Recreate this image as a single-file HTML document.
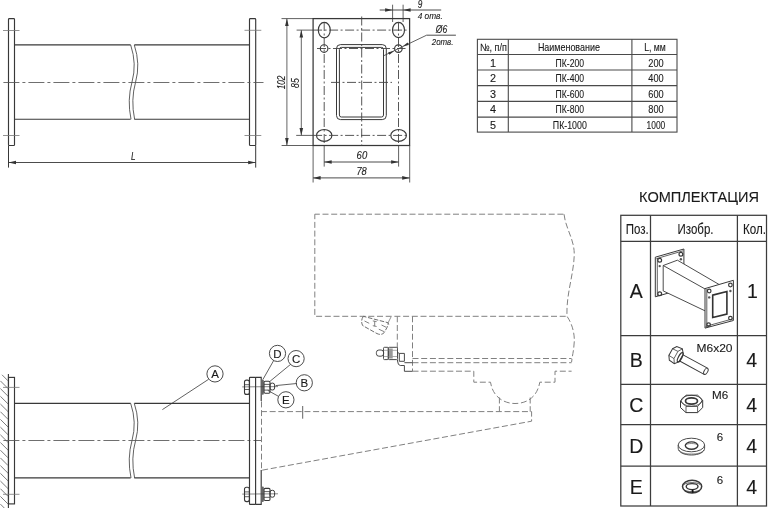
<!DOCTYPE html>
<html><head><meta charset="utf-8"><style>
html,body{margin:0;padding:0;background:#fff;width:768px;height:508px;overflow:hidden}
svg{display:block;filter:blur(0.45px)}
text{font-family:"Liberation Sans",sans-serif;stroke:#1a1a1a;stroke-width:0.12px}
.s{stroke:#383838;stroke-width:1.15;fill:none}
.h{stroke:#777;stroke-width:0.8;fill:none}
.p{stroke:#383838;stroke-width:1.15;fill:none}
.t{stroke:#3c3c3c;stroke-width:1.25;fill:none}
.t1{stroke:#4a4a4a;stroke-width:1.1;fill:none}
.d{stroke:#808080;stroke-width:1;fill:none;stroke-dasharray:6 2.7}
.c{stroke:#555;stroke-width:0.85;fill:none;stroke-dasharray:16 3 3 3}
.c2{stroke:#444;stroke-width:0.9;fill:none;stroke-dasharray:9 2.5 2 2.5}
</style></head><body>
<svg width="768" height="508" viewBox="0 0 768 508">
<rect x="8.5" y="18.6" width="6" height="126.9" rx="0.8" class="s"/>
<rect x="249.5" y="18.6" width="6.2" height="126.9" rx="0.8" class="s"/>
<line x1="14.5" y1="44.9" x2="130.7" y2="44.9" class="p" />
<line x1="134.3" y1="44.9" x2="249.5" y2="44.9" class="p" />
<line x1="14.5" y1="119.2" x2="130.7" y2="119.2" class="p" />
<line x1="134.3" y1="119.2" x2="249.5" y2="119.2" class="p" />
<path style="stroke-width:0.8" d="M130.7,45 Q137,64 132,82 Q127,100 131,119.2" class="s"/>
<path style="stroke-width:0.8" d="M134.29999999999998,45 Q140.6,64 135.6,82 Q130.6,100 134.6,119.2" class="s"/>
<line x1="3" y1="30.5" x2="19.5" y2="30.5" class="h" />
<line x1="3" y1="135.5" x2="19.5" y2="135.5" class="h" />
<line x1="244.5" y1="30.3" x2="261.3" y2="30.3" class="h" />
<line x1="244.5" y1="135.5" x2="261.3" y2="135.5" class="h" />
<line x1="3.4" y1="82.5" x2="263.5" y2="82.5" class="c" />
<line style="stroke-width:1" x1="8.5" y1="145.5" x2="8.5" y2="167.6" class="s"/>
<line style="stroke-width:1" x1="255.7" y1="145.5" x2="255.7" y2="167.6" class="s"/>
<line style="stroke-width:0.9" x1="8.5" y1="162.5" x2="255.7" y2="162.5" class="s"/>
<polygon points="8.50,162.50 16.00,160.70 16.00,164.30" fill="#333"/>
<polygon points="255.70,162.50 248.20,164.30 248.20,160.70" fill="#333"/>
<text x="133.2" y="159.8" font-size="11.5" text-anchor="middle" style="font-style:italic;" fill="#1a1a1a" textLength="4.6" lengthAdjust="spacingAndGlyphs" >L</text>
<rect style="stroke-width:1.25" x="313.1" y="18.6" width="96.5" height="126.9" class="s"/>
<ellipse cx="324.3" cy="30.1" rx="6" ry="7.7" class="s"/>
<ellipse cx="398.5" cy="30.0" rx="6" ry="7.7" class="s"/>
<ellipse cx="324.2" cy="135.4" rx="7.7" ry="5.9" class="s"/>
<ellipse cx="398.6" cy="135.4" rx="7.8" ry="5.9" class="s"/>
<circle cx="324.1" cy="48.5" r="3.8" class="s"/>
<circle cx="398.4" cy="48.6" r="3.8" class="s"/>
<rect style="stroke-width:1" x="336.5" y="44.6" width="49.8" height="75" rx="4" class="s"/>
<rect style="stroke-width:1" x="339.4" y="47.4" width="44.1" height="69.6" rx="2" class="s"/>
<line x1="361.7" y1="16.5" x2="361.7" y2="145.5" class="c2" />
<line x1="331" y1="82.4" x2="392" y2="82.4" class="c2" />
<line x1="324.2" y1="22" x2="324.2" y2="145.5" class="c2" />
<line x1="398.5" y1="22" x2="398.5" y2="145.5" class="c2" />
<line style="stroke-width:0.8" x1="324.2" y1="145.5" x2="324.2" y2="166.6" class="s"/>
<line style="stroke-width:0.8" x1="398.6" y1="145.5" x2="398.6" y2="166.6" class="s"/>
<line x1="313.1" y1="30.1" x2="409.6" y2="30.1" class="c2" />
<line x1="313.1" y1="135.4" x2="409.6" y2="135.4" class="c2" />
<line style="stroke-width:0.8" x1="296.6" y1="30.1" x2="313.1" y2="30.1" class="s"/>
<line style="stroke-width:0.8" x1="296.2" y1="135.4" x2="313.1" y2="135.4" class="s"/>
<line x1="317" y1="48.5" x2="405.5" y2="48.5" class="c2" />
<line style="stroke-width:0.8" x1="281.5" y1="18.6" x2="313.1" y2="18.6" class="s"/>
<line style="stroke-width:0.8" x1="281.6" y1="145.5" x2="313.1" y2="145.5" class="s"/>
<line style="stroke-width:0.9;stroke:#555" x1="286.9" y1="18.6" x2="286.9" y2="145.5" class="s"/>
<polygon points="286.90,18.60 288.70,26.10 285.10,26.10" fill="#333"/>
<polygon points="286.90,145.50 285.10,138.00 288.70,138.00" fill="#333"/>
<line style="stroke-width:0.9;stroke:#555" x1="301.3" y1="30.1" x2="301.3" y2="135.4" class="s"/>
<polygon points="301.30,30.10 303.10,37.60 299.50,37.60" fill="#333"/>
<polygon points="301.30,135.40 299.50,127.90 303.10,127.90" fill="#333"/>
<text x="0" y="0" font-size="10" text-anchor="middle" style="font-style:italic;" fill="#1a1a1a" textLength="13.6" lengthAdjust="spacingAndGlyphs" transform="translate(285.1,82.4) rotate(-90)">102</text>
<text x="0" y="0" font-size="10" text-anchor="middle" style="font-style:italic;" fill="#1a1a1a" textLength="9.6" lengthAdjust="spacingAndGlyphs" transform="translate(298.7,83.1) rotate(-90)">85</text>
<line style="stroke-width:0.9" x1="324.2" y1="162" x2="398.6" y2="162" class="s"/>
<polygon points="324.20,162.00 331.70,160.20 331.70,163.80" fill="#333"/>
<polygon points="398.60,162.00 391.10,163.80 391.10,160.20" fill="#333"/>
<text x="361.9" y="159.2" font-size="10.5" text-anchor="middle" style="font-style:italic;" fill="#1a1a1a" textLength="10.6" lengthAdjust="spacingAndGlyphs" >60</text>
<line style="stroke-width:0.8" x1="313.1" y1="145.5" x2="313.1" y2="182.5" class="s"/>
<line style="stroke-width:0.8" x1="409.7" y1="145.5" x2="409.7" y2="182.5" class="s"/>
<line style="stroke-width:0.9" x1="313.1" y1="177.9" x2="409.7" y2="177.9" class="s"/>
<polygon points="313.10,177.90 320.60,176.10 320.60,179.70" fill="#333"/>
<polygon points="409.70,177.90 402.20,179.70 402.20,176.10" fill="#333"/>
<text x="361.6" y="175.1" font-size="10.5" text-anchor="middle" style="font-style:italic;" fill="#1a1a1a" textLength="10.4" lengthAdjust="spacingAndGlyphs" >78</text>
<line style="stroke-width:0.8" x1="392.6" y1="4.7" x2="392.6" y2="22" class="s"/>
<line style="stroke-width:0.8" x1="403.1" y1="4.7" x2="403.1" y2="22" class="s"/>
<line style="stroke-width:0.9" x1="379.7" y1="10" x2="441.2" y2="10" class="s"/>
<polygon points="392.60,10.00 385.10,11.80 385.10,8.20" fill="#333"/>
<polygon points="403.10,10.00 410.60,8.20 410.60,11.80" fill="#333"/>
<text x="420.1" y="7.6" font-size="10.5" text-anchor="middle" style="font-style:italic;" fill="#1a1a1a" textLength="4.6" lengthAdjust="spacingAndGlyphs" >9</text>
<text x="430.2" y="19.4" font-size="9.5" text-anchor="middle" style="font-style:italic;" fill="#1a1a1a" textLength="25" lengthAdjust="spacingAndGlyphs" >4 отв.</text>
<line style="stroke-width:0.9" x1="426.6" y1="35.2" x2="455.9" y2="35.2" class="s"/>
<line style="stroke-width:0.8" x1="426.6" y1="35.2" x2="384" y2="55.6" class="s"/>
<polygon points="402.80,46.30 407.61,42.45 408.82,44.97" fill="#333"/>
<polygon points="394.20,50.90 389.39,54.75 388.18,52.23" fill="#333"/>
<text x="441.5" y="32.8" font-size="10" text-anchor="middle" style="font-style:italic;" fill="#1a1a1a" textLength="11.5" lengthAdjust="spacingAndGlyphs" >Ø6</text>
<text x="442.6" y="45.1" font-size="9.5" text-anchor="middle" style="font-style:italic;" fill="#1a1a1a" textLength="21.7" lengthAdjust="spacingAndGlyphs" >2отв.</text>
<rect x="477.4" y="39.3" width="199.60000000000002" height="92.8" class="t1"/>
<line x1="508.3" y1="39.3" x2="508.3" y2="132.1" class="t1" />
<line x1="631.9" y1="39.3" x2="631.9" y2="132.1" class="t1" />
<line x1="477.4" y1="54.5" x2="677.0" y2="54.5" class="t1" />
<line x1="477.4" y1="70.0" x2="677.0" y2="70.0" class="t1" />
<line x1="477.4" y1="85.6" x2="677.0" y2="85.6" class="t1" />
<line x1="477.4" y1="101.4" x2="677.0" y2="101.4" class="t1" />
<line x1="477.4" y1="117.1" x2="677.0" y2="117.1" class="t1" />
<text x="493.4" y="51.1" font-size="10.5" text-anchor="middle" style="" fill="#1a1a1a" textLength="27" lengthAdjust="spacingAndGlyphs" >№, п/п</text>
<text x="568.9" y="51.1" font-size="10.5" text-anchor="middle" style="" fill="#1a1a1a" textLength="62" lengthAdjust="spacingAndGlyphs" >Наименование</text>
<text x="655" y="51.1" font-size="10.5" text-anchor="middle" style="" fill="#1a1a1a" textLength="21.6" lengthAdjust="spacingAndGlyphs" >L, мм</text>
<text x="493.05" y="66.5" font-size="10.8" text-anchor="middle" style="" fill="#1a1a1a" >1</text>
<text x="569.8000000000001" y="66.5" font-size="10.8" text-anchor="middle" style="" fill="#1a1a1a" textLength="28.5" lengthAdjust="spacingAndGlyphs" >ПК-200</text>
<text x="655.95" y="66.5" font-size="10.8" text-anchor="middle" style="" fill="#1a1a1a" textLength="15.4" lengthAdjust="spacingAndGlyphs" >200</text>
<text x="493.05" y="82.0" font-size="10.8" text-anchor="middle" style="" fill="#1a1a1a" >2</text>
<text x="569.8000000000001" y="82.0" font-size="10.8" text-anchor="middle" style="" fill="#1a1a1a" textLength="28.5" lengthAdjust="spacingAndGlyphs" >ПК-400</text>
<text x="655.95" y="82.0" font-size="10.8" text-anchor="middle" style="" fill="#1a1a1a" textLength="15.4" lengthAdjust="spacingAndGlyphs" >400</text>
<text x="493.05" y="97.6" font-size="10.8" text-anchor="middle" style="" fill="#1a1a1a" >3</text>
<text x="569.8000000000001" y="97.6" font-size="10.8" text-anchor="middle" style="" fill="#1a1a1a" textLength="28.5" lengthAdjust="spacingAndGlyphs" >ПК-600</text>
<text x="655.95" y="97.6" font-size="10.8" text-anchor="middle" style="" fill="#1a1a1a" textLength="15.4" lengthAdjust="spacingAndGlyphs" >600</text>
<text x="493.05" y="113.4" font-size="10.8" text-anchor="middle" style="" fill="#1a1a1a" >4</text>
<text x="569.8000000000001" y="113.4" font-size="10.8" text-anchor="middle" style="" fill="#1a1a1a" textLength="28.5" lengthAdjust="spacingAndGlyphs" >ПК-800</text>
<text x="655.95" y="113.4" font-size="10.8" text-anchor="middle" style="" fill="#1a1a1a" textLength="15.4" lengthAdjust="spacingAndGlyphs" >800</text>
<text x="493.05" y="129.1" font-size="10.8" text-anchor="middle" style="" fill="#1a1a1a" >5</text>
<text x="569.8000000000001" y="129.1" font-size="10.8" text-anchor="middle" style="" fill="#1a1a1a" textLength="34" lengthAdjust="spacingAndGlyphs" >ПК-1000</text>
<text x="655.95" y="129.1" font-size="10.8" text-anchor="middle" style="" fill="#1a1a1a" textLength="18.7" lengthAdjust="spacingAndGlyphs" >1000</text>
<text x="699" y="202.3" font-size="14.6" text-anchor="middle" style="" fill="#1a1a1a" textLength="119.8" lengthAdjust="spacingAndGlyphs" >КОМПЛЕКТАЦИЯ</text>
<rect x="620.8" y="215.3" width="145.70000000000005" height="290.7" class="t"/>
<line x1="650.5" y1="215.3" x2="650.5" y2="506.0" class="t" />
<line x1="737.4" y1="215.3" x2="737.4" y2="506.0" class="t" />
<line x1="620.8" y1="241.3" x2="766.5" y2="241.3" class="t" />
<line x1="620.8" y1="335.7" x2="766.5" y2="335.7" class="t" />
<line x1="620.8" y1="384.4" x2="766.5" y2="384.4" class="t" />
<line x1="620.8" y1="424.5" x2="766.5" y2="424.5" class="t" />
<line x1="620.8" y1="466.0" x2="766.5" y2="466.0" class="t" />
<text x="637.2" y="233.8" font-size="15" text-anchor="middle" style="" fill="#1a1a1a" textLength="23" lengthAdjust="spacingAndGlyphs" >Поз.</text>
<text x="695.5" y="233.6" font-size="15" text-anchor="middle" style="" fill="#1a1a1a" textLength="36" lengthAdjust="spacingAndGlyphs" >Изобр.</text>
<text x="754.5" y="233.8" font-size="15" text-anchor="middle" style="" fill="#1a1a1a" textLength="23" lengthAdjust="spacingAndGlyphs" >Кол.</text>
<text x="636.3" y="297.5" font-size="19.5" text-anchor="middle" style="" fill="#1a1a1a" >A</text>
<text x="752.4" y="297.5" font-size="19.5" text-anchor="middle" style="" fill="#1a1a1a" >1</text>
<text x="636.3" y="367.24999999999994" font-size="19.5" text-anchor="middle" style="" fill="#1a1a1a" >B</text>
<text x="751.8" y="367.24999999999994" font-size="19.5" text-anchor="middle" style="" fill="#1a1a1a" >4</text>
<text x="636.3" y="412.05" font-size="19.5" text-anchor="middle" style="" fill="#1a1a1a" >C</text>
<text x="751.8" y="412.05" font-size="19.5" text-anchor="middle" style="" fill="#1a1a1a" >4</text>
<text x="636.3" y="453.25" font-size="19.5" text-anchor="middle" style="" fill="#1a1a1a" >D</text>
<text x="751.8" y="453.25" font-size="19.5" text-anchor="middle" style="" fill="#1a1a1a" >4</text>
<text x="636.3" y="494.2" font-size="19.5" text-anchor="middle" style="" fill="#1a1a1a" >E</text>
<text x="751.8" y="494.2" font-size="19.5" text-anchor="middle" style="" fill="#1a1a1a" >4</text>
<text x="714.5" y="352.2" font-size="11.5" text-anchor="middle" style="" fill="#1a1a1a" textLength="36" lengthAdjust="spacingAndGlyphs" >M6x20</text>
<text x="720.2" y="398.8" font-size="11.5" text-anchor="middle" style="" fill="#1a1a1a" textLength="16.2" lengthAdjust="spacingAndGlyphs" >M6</text>
<text x="720" y="440.5" font-size="11.5" text-anchor="middle" style="" fill="#1a1a1a" >6</text>
<text x="720" y="484.1" font-size="11.5" text-anchor="middle" style="" fill="#1a1a1a" >6</text>
<line style="stroke-width:1.1" x1="8.4" y1="374" x2="8.4" y2="508" class="s"/>
<line x1="2.0" y1="374.8" x2="8" y2="380.8" stroke="#6e6e6e" stroke-width="0.9"/>
<line x1="0.4" y1="380.9" x2="8" y2="388.5" stroke="#6e6e6e" stroke-width="0.9"/>
<line x1="0.4" y1="388.6" x2="8" y2="396.2" stroke="#6e6e6e" stroke-width="0.9"/>
<line x1="0.4" y1="396.3" x2="8" y2="403.9" stroke="#6e6e6e" stroke-width="0.9"/>
<line x1="0.4" y1="404.0" x2="8" y2="411.6" stroke="#6e6e6e" stroke-width="0.9"/>
<line x1="0.4" y1="411.7" x2="8" y2="419.3" stroke="#6e6e6e" stroke-width="0.9"/>
<line x1="0.4" y1="419.4" x2="8" y2="427.0" stroke="#6e6e6e" stroke-width="0.9"/>
<line x1="0.4" y1="427.1" x2="8" y2="434.7" stroke="#6e6e6e" stroke-width="0.9"/>
<line x1="0.4" y1="434.8" x2="8" y2="442.4" stroke="#6e6e6e" stroke-width="0.9"/>
<line x1="0.4" y1="442.5" x2="8" y2="450.1" stroke="#6e6e6e" stroke-width="0.9"/>
<line x1="0.4" y1="450.2" x2="8" y2="457.8" stroke="#6e6e6e" stroke-width="0.9"/>
<line x1="0.4" y1="457.9" x2="8" y2="465.5" stroke="#6e6e6e" stroke-width="0.9"/>
<line x1="0.4" y1="465.6" x2="8" y2="473.2" stroke="#6e6e6e" stroke-width="0.9"/>
<line x1="0.4" y1="473.3" x2="8" y2="480.9" stroke="#6e6e6e" stroke-width="0.9"/>
<line x1="0.4" y1="481.0" x2="8" y2="488.6" stroke="#6e6e6e" stroke-width="0.9"/>
<line x1="0.4" y1="488.7" x2="8" y2="496.3" stroke="#6e6e6e" stroke-width="0.9"/>
<line x1="0.4" y1="496.4" x2="8" y2="504.0" stroke="#6e6e6e" stroke-width="0.9"/>
<line x1="0.4" y1="504.1" x2="8" y2="511.7" stroke="#6e6e6e" stroke-width="0.9"/>
<rect x="8.5" y="377.4" width="6" height="126.5" class="s"/>
<line x1="3" y1="387.4" x2="19.5" y2="387.4" class="h" />
<line x1="3" y1="494.3" x2="19.5" y2="494.3" class="h" />
<line x1="14.5" y1="403.4" x2="130.7" y2="403.4" class="p" />
<line x1="134.3" y1="403.4" x2="249.5" y2="403.4" class="p" />
<line x1="14.5" y1="477.9" x2="130.7" y2="477.9" class="p" />
<line x1="134.3" y1="477.9" x2="249.5" y2="477.9" class="p" />
<path style="stroke-width:0.8" d="M130.7,403.4 Q137,422.4 132,440.5 Q127,458.5 131,477.9" class="s"/>
<path style="stroke-width:0.8" d="M134.29999999999998,403.4 Q140.6,422.4 135.6,440.5 Q130.6,458.5 134.6,477.9" class="s"/>
<line x1="3.4" y1="440.5" x2="262" y2="440.5" class="c" />
<rect x="249.5" y="377.3" width="6.1" height="127" rx="0.6" class="s"/>
<path d="M255.6,377.3 H261.2 V401" class="s"/>
<path d="M261.2,470 V504.3 H255.6" class="s"/>
<rect style="stroke-width:1.1" x="244.5" y="380.09999999999997" width="4.9" height="14.3" rx="2" class="s"/>
<line style="stroke-width:0.8" x1="244.5" y1="384.7" x2="249.4" y2="384.7" class="s"/>
<line style="stroke-width:0.8" x1="244.5" y1="389.5" x2="249.4" y2="389.5" class="s"/>
<rect x="261.6" y="379.4" width="2.2" height="15.4" rx="1" fill="#666"/>
<rect style="stroke-width:1.1" x="264.0" y="381.2" width="6" height="12.1" rx="1.2" class="s"/>
<line style="stroke-width:0.8" x1="264.0" y1="384.4" x2="270" y2="384.4" class="s"/>
<line style="stroke-width:0.8" x1="264.0" y1="390.09999999999997" x2="270" y2="390.09999999999997" class="s"/>
<rect style="stroke-width:1" x="270" y="383.09999999999997" width="4.6" height="6.9" rx="2" class="s"/>
<line style="stroke-width:0.6" x1="242.2" y1="386.9" x2="278" y2="386.59999999999997" class="s"/>
<rect style="stroke-width:1.1" x="244.5" y="487.29999999999995" width="4.9" height="14.3" rx="2" class="s"/>
<line style="stroke-width:0.8" x1="244.5" y1="491.9" x2="249.4" y2="491.9" class="s"/>
<line style="stroke-width:0.8" x1="244.5" y1="496.7" x2="249.4" y2="496.7" class="s"/>
<rect x="261.6" y="486.59999999999997" width="2.2" height="15.4" rx="1" fill="#666"/>
<rect style="stroke-width:1.1" x="264.0" y="488.4" width="6" height="12.1" rx="1.2" class="s"/>
<line style="stroke-width:0.8" x1="264.0" y1="491.59999999999997" x2="270" y2="491.59999999999997" class="s"/>
<line style="stroke-width:0.8" x1="264.0" y1="497.29999999999995" x2="270" y2="497.29999999999995" class="s"/>
<rect style="stroke-width:1" x="270" y="490.29999999999995" width="4.6" height="6.9" rx="2" class="s"/>
<line style="stroke-width:0.6" x1="242.2" y1="494.09999999999997" x2="278" y2="493.79999999999995" class="s"/>
<circle style="stroke-width:0.9" cx="215" cy="373.9" r="8.1" class="s"/>
<text x="215" y="378.09999999999997" font-size="11.5" text-anchor="middle" style="" fill="#1a1a1a" >A</text>
<line style="stroke-width:0.8" x1="162.4" y1="409.6" x2="208.6" y2="379.3" class="s"/>
<circle style="stroke-width:0.9" cx="277.5" cy="353.4" r="8.1" class="s"/>
<text x="277.5" y="357.59999999999997" font-size="11.5" text-anchor="middle" style="" fill="#1a1a1a" >D</text>
<line style="stroke-width:0.8" x1="263" y1="379.3" x2="273.8" y2="360.3" class="s"/>
<circle style="stroke-width:0.9" cx="296.1" cy="358.6" r="8.1" class="s"/>
<text x="296.1" y="362.8" font-size="11.5" text-anchor="middle" style="" fill="#1a1a1a" >C</text>
<line style="stroke-width:0.8" x1="270.1" y1="381.2" x2="290.8" y2="364.2" class="s"/>
<circle style="stroke-width:0.9" cx="304.3" cy="382.8" r="8.1" class="s"/>
<text x="304.3" y="387.0" font-size="11.5" text-anchor="middle" style="" fill="#1a1a1a" >B</text>
<line style="stroke-width:0.8" x1="275.6" y1="385.6" x2="296.7" y2="383.5" class="s"/>
<circle style="stroke-width:0.9" cx="285.9" cy="399.8" r="8.1" class="s"/>
<text x="285.9" y="404.0" font-size="11.5" text-anchor="middle" style="" fill="#1a1a1a" >E</text>
<line style="stroke-width:0.8" x1="267.8" y1="390.4" x2="278.6" y2="396.4" class="s"/>
<path d="M314.8,214.2 V316.3 H567" class="d" style="stroke-dashoffset:1"/>
<path d="M314.8,214.2 H564" class="d" style="stroke-dashoffset:1"/>
<path d="M564,214.2 C566,230 575,240 574.2,256 C573.5,275 566,295 567,316.3 C573,325 574.5,335 574.3,341 C574,350 572,357 571.6,362" class="d"/>
<line x1="397.3" y1="316.3" x2="397.3" y2="348.4" class="d" />
<line x1="412.5" y1="316.3" x2="412.5" y2="371.2" class="d" />
<line x1="412.5" y1="358.5" x2="571.6" y2="358.5" class="d" />
<line x1="412.5" y1="362.7" x2="571.6" y2="362.7" class="d" />
<path d="M412.5,371.2 H473.8 V382.2 H490.5 C493,398 505,403.5 515,403.5 C526,403.5 537,398 539.8,382.2 H555 V371.2 H571.6" class="d"/>
<line x1="499.4" y1="397.5" x2="499.4" y2="411.6" class="d" />
<line x1="530.2" y1="397.5" x2="530.2" y2="411.6" class="d" />
<path d="M261.5,401.4 V470.3 L531.6,421.2 V411.6 H261.5" class="d"/>
<line style="stroke-width:0.8" x1="302.7" y1="406" x2="302.7" y2="418.7" class="s"/>
<path d="M363.3,316.3 Q360.3,321 362.7,325.6 L377,333.6 Q381.5,335.6 384.2,332.6 L387,327.5 L388.3,322.8 L363.3,316.3 Z" class="d" style="stroke-width:0.95;stroke-dasharray:4.5 1.6;stroke:#666"/>
<path d="M364.5,321 L369.2,323.3 M378.8,329.2 L384,331.6 M374.7,321.2 V326.2 M372.8,320.9 L376.6,321.6 M372.8,325.7 L376.6,326.5 M381.5,325 L386.2,327.3" class="s" style="stroke-width:0.8;stroke:#666"/>
<path d="M391,317 L388.2,322.6 L388.8,324.8" class="s" style="stroke-width:0.8;stroke:#777"/>
<rect style="stroke-width:0.95;stroke:#404040" x="376.4" y="350" width="7.2" height="6.2" rx="2.5" class="s"/>
<rect style="stroke-width:0.95;stroke:#404040" x="383.5" y="347.3" width="4.8" height="12.3" rx="1" class="s"/>
<rect style="stroke-width:0.95;stroke:#404040" x="388.3" y="347.3" width="9.2" height="12.3" rx="1" class="s"/>
<path style="stroke-width:0.6;stroke:#777" d="M383.5,350.3 H397.5 M383.5,356.5 H397.5" class="s"/>
<rect x="389" y="348.5" width="3.7" height="10" fill="#999"/>
<path style="stroke-width:0.95;stroke:#404040" d="M397.5,352.4 L399.3,353.4 V361.3 H404.4 V353.4 H399.3" class="s"/>
<path style="stroke-width:0.95;stroke:#404040" d="M397.5,359.6 V361 Q398,365.5 400.3,365.5 H404.4 V371.3 H412.5 M404.4,362.7 H412.5" class="s"/>
<polygon points="655.3,257.2 683.9,249 683.9,288.6 655.3,296.8" class="s" style="stroke-width:1;fill:#fff"/>
<polyline style="stroke-width:0.8" points="657.3,258 657.3,296" class="s"/>
<polyline style="stroke-width:0.8" points="656.5,258.6 683.2,250.8" class="s"/>
<circle style="stroke-width:1.2" cx="659.7" cy="260.2" r="1.9" class="s"/>
<circle style="stroke-width:1.2" cx="680.9" cy="254.3" r="1.9" class="s"/>
<circle style="stroke-width:1.2" cx="659.7" cy="293.8" r="1.9" class="s"/>
<circle cx="659.7" cy="266.1" r="1.2" fill="#555"/>
<circle cx="680.9" cy="259.2" r="1.2" fill="#555"/>
<polygon points="663.2,265.5 677.4,260.2 719.3,284.6 712,300 706,311.3 663.2,290.9" class="s" style="stroke-width:0.9;fill:#fff"/>
<line style="stroke-width:0.9" x1="663.2" y1="265.5" x2="706" y2="289.5" class="s"/>
<polygon points="705,288.6 733.4,280.3 733.4,320.5 705,328.1" class="s" style="stroke-width:1;fill:#fff"/>
<polyline style="stroke-width:0.8" points="706.8,289 706.8,327.6" class="s"/>
<polyline style="stroke-width:0.8" points="705.6,326.4 733,318.8" class="s"/>
<polygon style="stroke-width:1.6;stroke:#333" points="712.7,295.1 726.9,291.5 726.9,314 712.7,317.5" class="s"/>
<circle style="stroke-width:1.2" cx="709.2" cy="291" r="1.8" class="s"/>
<circle style="stroke-width:1.2" cx="730.4" cy="285" r="1.8" class="s"/>
<circle style="stroke-width:1.2" cx="730.4" cy="318.1" r="1.8" class="s"/>
<circle style="stroke-width:1.2" cx="708.6" cy="324.6" r="1.8" class="s"/>
<circle cx="709.2" cy="297.4" r="1.2" fill="#555"/>
<circle cx="730.4" cy="291" r="1.2" fill="#555"/>
<g transform="translate(676.4,355.2) rotate(28.6)"><rect x="2" y="-3.5" width="32" height="7" rx="0.5" class="s" style="stroke-width:0.95;fill:#fff"/><ellipse cx="33.6" cy="0" rx="1.8" ry="3.4" class="s" style="stroke-width:0.9;fill:#fff"/><path d="M-6.5,-3.8 L-3.8,-7.8 L2.2,-8.4 L5.5,-4.3 L5.5,4.3 L2.2,8.4 L-3.8,7.8 L-6.5,3.8 Z" class="s" style="stroke-width:1;fill:#fff"/><path style="stroke-width:0.7" d="M-6.5,-3.8 L-0.5,-4.1 L2.2,-8.4 M-0.5,-4.1 L-0.5,4.1 M-6.5,3.8 L-0.5,4.1 L2.2,8.4" class="s"/><ellipse style="stroke-width:1.3" cx="4.3" cy="0" rx="1.7" ry="5.2" class="s"/></g>
<path style="stroke-width:1" d="M680.5,401 L686,395.2 H697.6 L702.7,400.2 V407.6 L697.6,412.6 H686 L680.5,407.6 Z" class="s"/>
<ellipse style="stroke-width:0.8" cx="691.5" cy="400.7" rx="10.4" ry="5.4" class="s"/>
<ellipse style="stroke-width:1.7" cx="691.5" cy="401" rx="6" ry="3.1" class="s"/>
<path style="stroke-width:0.8" d="M680.5,401 L686,406.5 H697.6 L702.7,400.2 M686,406.5 V412.6 M697.6,406.5 V412.6" class="s"/>
<path style="stroke-width:0.9" d="M678.2,445 V448.2 C678.2,452.3 684.1,455 691.4,455 C698.7,455 704.6,452.3 704.6,448.2 V445" class="s"/>
<path style="stroke-width:0.6" d="M678.8,450 C681,453 686,454 691.4,454 C697,454 702,453 704,450" class="s"/>
<ellipse cx="691.4" cy="445" rx="13.2" ry="6.8" class="s" style="stroke-width:0.9;fill:#fff"/>
<ellipse style="stroke-width:1.4" cx="691.6" cy="445.6" rx="6.3" ry="3.7" class="s"/>
<path style="stroke-width:0.6" d="M685.6,445 C687,443 696,443 697.6,445" class="s"/>
<ellipse style="stroke-width:1.5" cx="692.1" cy="486.6" rx="9.6" ry="6.3" class="s"/>
<ellipse style="stroke-width:1.4" cx="692.1" cy="486.6" rx="5.9" ry="3" class="s"/>
<path style="stroke-width:0.8" d="M684.2,484.6 C686,482 698,482 700,484.6" class="s"/>
<path style="stroke-width:0.8" d="M683.6,489.4 C686,492.4 698,492.4 700.6,489.4" class="s"/>
<line style="stroke-width:1.8;stroke:#111" x1="692.6" y1="489.6" x2="692.6" y2="492.8" class="s"/>
</svg>
</body></html>
